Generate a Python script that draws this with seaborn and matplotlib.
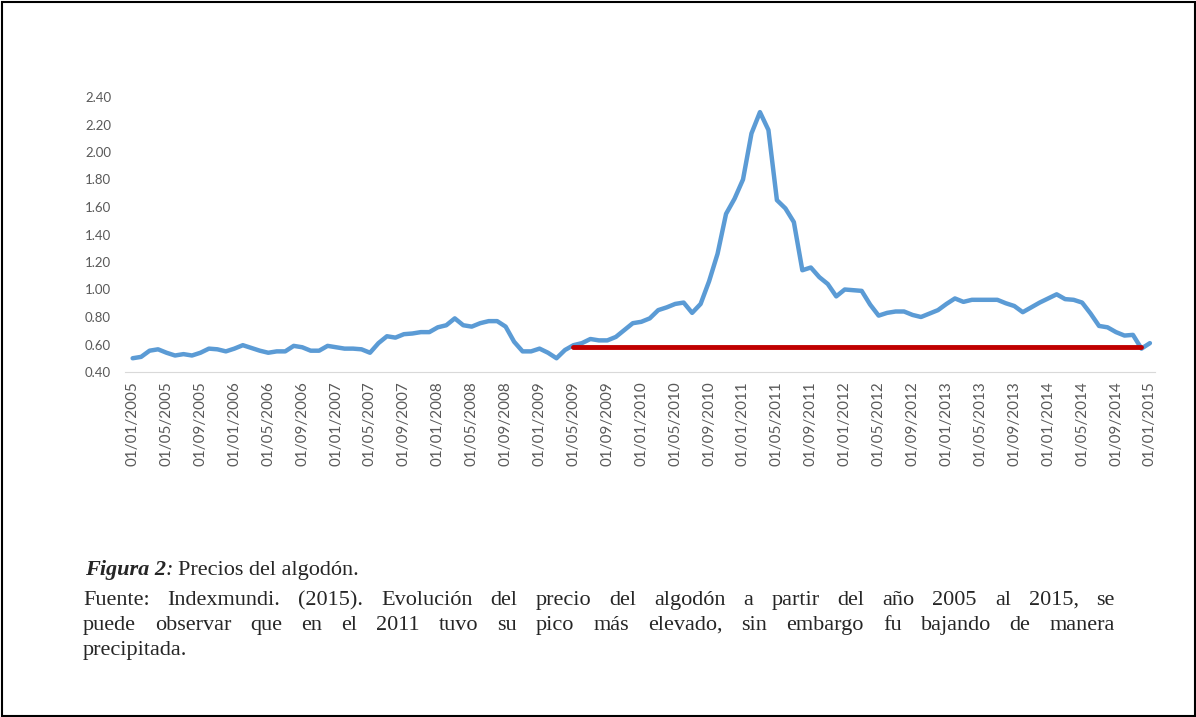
import numpy as np
import pandas as pd
import matplotlib
matplotlib.use("Agg")
import matplotlib.pyplot as plt
from matplotlib.patches import Rectangle
import seaborn as sns

# precio mensual del algodon (USD/lb), 01/2005 - 01/2015
fechas = pd.date_range("2005-01-01", "2015-01-01", freq="MS")
precio = [
    0.50, 0.51, 0.555, 0.565, 0.54, 0.52, 0.53, 0.52, 0.54, 0.57, 0.565, 0.55,   # 2005
    0.57, 0.595, 0.575, 0.555, 0.54, 0.55, 0.55, 0.59, 0.58, 0.555, 0.555, 0.59,  # 2006
    0.58, 0.57, 0.57, 0.565, 0.54, 0.61, 0.66, 0.65, 0.675, 0.68, 0.69, 0.69,     # 2007
    0.725, 0.74, 0.79, 0.74, 0.73, 0.755, 0.77, 0.77, 0.73, 0.62, 0.55, 0.55,     # 2008
    0.57, 0.54, 0.50, 0.56, 0.595, 0.61, 0.64, 0.63, 0.63, 0.655, 0.705, 0.755,   # 2009
    0.765, 0.79, 0.85, 0.87, 0.895, 0.905, 0.83, 0.895, 1.06, 1.26, 1.55, 1.66,   # 2010
    1.80, 2.135, 2.29, 2.16, 1.65, 1.59, 1.49, 1.14, 1.16, 1.09, 1.04, 0.95,      # 2011
    1.00, 0.995, 0.99, 0.89, 0.81, 0.83, 0.84, 0.84, 0.815, 0.80, 0.825, 0.85,    # 2012
    0.895, 0.935, 0.91, 0.925, 0.925, 0.925, 0.925, 0.90, 0.88, 0.835, 0.87, 0.905,  # 2013
    0.935, 0.965, 0.93, 0.925, 0.905, 0.825, 0.735, 0.725, 0.69, 0.665, 0.67, 0.57,  # 2014
    0.61,                                                                          # 2015
]
nivel_ref = 0.58
ref_ini, ref_fin = "2009-05-01", "2014-12-01"

titulo = "Precios del algodón."
fuente = ("Fuente: Indexmundi. (2015). Evolución del precio del algodón a partir del año 2005 al 2015, se "
          "puede observar que en el 2011 tuvo su pico más elevado, sin embargo fu bajando de manera "
          "precipitada.")
renglones = [16, 17]  # palabras por renglon (justificados), el resto va al final

df = pd.DataFrame({"fecha": fechas, "precio": precio})
df["pos"] = np.arange(len(df))
ref = df[(df.fecha >= ref_ini) & (df.fecha <= ref_fin)].assign(nivel=nivel_ref)

sns.set_style("white")
plt.rcParams["font.family"] = ["Lato", "DejaVu Sans"]

W, H = 1196, 717
fig = plt.figure(figsize=(W / 100, H / 100), dpi=100)
ax = fig.add_axes([125 / W, 1 - 372 / H, (1155 - 125) / W, (372 - 97) / H])

sns.lineplot(data=df, x="pos", y="precio", color="#5B9BD5", lw=3.2, ax=ax)
sns.lineplot(data=ref, x="pos", y="nivel", color="#C00000", lw=3.5, ax=ax)

ax.set_xlim(-0.9, 120.6)
ax.set_ylim(0.4, 2.4)
ax.set_yticks(np.arange(0.4, 2.41, 0.2))
ax.set_yticklabels([f"{v:.2f}" for v in np.arange(0.4, 2.41, 0.2)])
ax.set_xticks(df.pos[::4])
ax.set_xticklabels(df.fecha.dt.strftime("%d/%m/%Y")[::4], rotation=90)
ax.set_xlabel("")
ax.set_ylabel("")
sns.despine(ax=ax, left=True)
ax.spines["bottom"].set_color("#D9D9D9")
ax.tick_params(axis="y", length=0, pad=10, labelsize=9.5, labelcolor="#595959")
ax.tick_params(axis="x", length=4, color="#D9D9D9", pad=3, labelsize=11, labelcolor="#595959")

# caption en Times
serif = ["Liberation Serif", "DejaVu Serif"]
fs = 16
r = fig.canvas.get_renderer()


def px(t):
    return t.get_window_extent(r).width


x = 85
t = fig.text(x / W, 1 - 575 / H, "Figura 2", family=serif, size=fs, weight="bold", style="italic")
x += px(t)
t = fig.text(x / W, 1 - 575 / H, ":", family=serif, size=fs, style="italic")
x += px(t) + 5
fig.text(x / W, 1 - 575 / H, titulo, family=serif, size=fs)

palabras = fuente.split()
x0, x1 = 83, 1115
base = 605
i = 0
for n in renglones:
    linea = palabras[i:i + n]
    objs = [fig.text(0, 1 - base / H, p, family=serif, size=fs) for p in linea]
    anchos = [px(o) for o in objs]
    hueco = (x1 - x0 - sum(anchos)) / (len(objs) - 1)
    xx = x0
    for o, a in zip(objs, anchos):
        o.set_x(xx / W)
        xx += a + hueco
    i += n
    base += 25
fig.text(x0 / W, 1 - base / H, " ".join(palabras[i:]), family=serif, size=fs)

fig.patches.append(Rectangle((1.5 / W, 1.5 / H), (W - 3) / W, (H - 3) / H, transform=fig.transFigure,
                             fill=False, edgecolor="black", lw=1.5))

fig.savefig("out.png", dpi=100)
